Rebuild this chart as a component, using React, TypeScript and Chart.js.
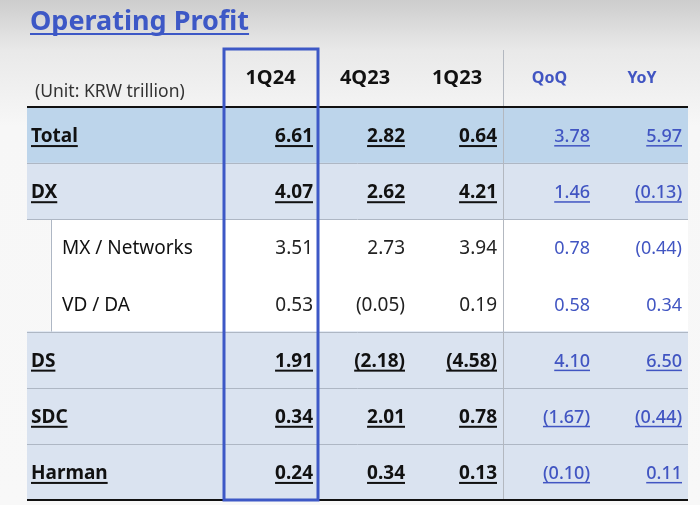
import React, { useEffect, useRef } from "react";
import { Chart, registerables } from "chart.js";

Chart.register(...registerables);

// ---- data ----
const rows = ["Total", "DX", "MX / Networks", "VD / DA", "DS", "SDC", "Harman"];
const boldRows = [true, true, false, false, true, true, true];
const columns = ["1Q24", "4Q23", "1Q23", "QoQ", "YoY"];
const q1_24 = [6.61, 4.07, 3.51, 0.53, 1.91, 0.34, 0.24];
const q4_23 = [2.82, 2.62, 2.73, -0.05, -2.18, 2.01, 0.34];
const q1_23 = [0.64, 4.21, 3.94, 0.19, -4.58, 0.78, 0.13];
const qoq = [3.78, 1.46, 0.78, 0.58, 4.1, -1.67, -0.1];
const yoy = [5.97, -0.13, -0.44, 0.34, 6.5, -0.44, 0.11];
const title = "Operating Profit";
const unitLabel = "(Unit: KRW trillion)";

// ---- layout / style ----
const COL_EDGES = [0, 195, 292, 384, 476, 569, 661];
const INDENT = 24;
const TABLE_W = COL_EDGES[COL_EDGES.length - 1];
const FONT = '"Noto Sans", "Open Sans", sans-serif';
const BLUE = "#3d58c6";
const TEXT_BLUE = "#4155c2";
const rowColor = (i: number) =>
  i === 0 ? "#bdd5eb" : boldRows[i] ? "#dae3f0" : "#ffffff";

const fmt = (v: number) => (v < 0 ? `(${Math.abs(v).toFixed(2)})` : v.toFixed(2));

const tablePlugin = {
  id: "tablePlugin",
  beforeDraw(chart: any) {
    const { ctx, width, height } = chart;
    ctx.save();
    const g = ctx.createLinearGradient(0, 0, 0, height);
    g.addColorStop(0, "#cdcdcd");
    g.addColorStop(0.1, "#e9e9e9");
    g.addColorStop(0.25, "#f7f7f7");
    g.addColorStop(1, "#f8f8f8");
    ctx.fillStyle = g;
    ctx.fillRect(0, 0, width, height);
    ctx.restore();
  },
  afterDatasetsDraw(chart: any) {
    const { ctx, chartArea } = chart;
    const x = chart.scales.x;
    const y = chart.scales.y;
    const band = y.getPixelForValue(1) - y.getPixelForValue(0);
    const cy = (i: number) => y.getPixelForValue(i);
    const xl = x.getPixelForValue(0);
    const xr = x.getPixelForValue(TABLE_W);
    ctx.save();

    // title
    ctx.font = `bold 27px ${FONT}`;
    ctx.fillStyle = BLUE;
    ctx.textBaseline = "alphabetic";
    ctx.textAlign = "left";
    ctx.fillText(title, 30, 30);
    const tw = ctx.measureText(title).width;
    ctx.fillRect(30, 33, tw, 2);

    // row separators
    ctx.strokeStyle = "#aeb7c4";
    ctx.lineWidth = 1;
    for (let i = 0; i < rows.length - 1; i++) {
      if (!boldRows[i] && !boldRows[i + 1]) continue;
      const yy = Math.round(cy(i) + band / 2) + 0.5;
      ctx.beginPath();
      ctx.moveTo(xl, yy);
      ctx.lineTo(xr, yy);
      ctx.stroke();
    }
    // indent border for sub rows
    const subIdx = rows.map((_, i) => i).filter((i) => !boldRows[i]);
    if (subIdx.length) {
      const ix = Math.round(x.getPixelForValue(INDENT)) + 0.5;
      ctx.beginPath();
      ctx.moveTo(ix, cy(subIdx[0]) - band / 2);
      ctx.lineTo(ix, cy(subIdx[subIdx.length - 1]) + band / 2);
      ctx.stroke();
    }

    // vertical separator between value & change columns
    ctx.strokeStyle = "#b3b8c0";
    const vx = Math.round(x.getPixelForValue(COL_EDGES[4])) + 0.5;
    ctx.beginPath();
    ctx.moveTo(vx, 50);
    ctx.lineTo(vx, chartArea.bottom);
    ctx.stroke();

    // header top/bottom black rules
    ctx.fillStyle = "#111";
    ctx.fillRect(xl, chartArea.top - 1, xr - xl, 2);
    ctx.fillRect(xl, chartArea.bottom - 1, xr - xl, 2);

    // headers
    ctx.textBaseline = "middle";
    ctx.textAlign = "left";
    ctx.font = `17.5px ${FONT}`;
    ctx.fillStyle = "#333";
    ctx.fillText(unitLabel, xl + 8, 92);
    columns.forEach((c, j) => {
      const cx = (x.getPixelForValue(COL_EDGES[j + 1]) + x.getPixelForValue(COL_EDGES[j + 2])) / 2;
      ctx.textAlign = "center";
      if (j < 3) {
        ctx.font = `bold 20px ${FONT}`;
        ctx.fillStyle = "#111";
      } else {
        ctx.font = `bold 16px ${FONT}`;
        ctx.fillStyle = TEXT_BLUE;
      }
      ctx.fillText(c, cx, 78);
    });

    // body
    const series = [q1_24, q4_23, q1_23, qoq, yoy];
    ctx.textBaseline = "alphabetic";
    rows.forEach((r, i) => {
      const base = cy(i) + 7;
      const bold = boldRows[i];
      // label
      ctx.textAlign = "left";
      ctx.font = `${bold ? "bold " : ""}19px ${FONT}`;
      ctx.fillStyle = "#111";
      const lx = bold ? xl + 4 : x.getPixelForValue(INDENT) + 11;
      ctx.fillText(r, lx, base);
      if (bold) {
        const w = ctx.measureText(r).width;
        ctx.fillRect(lx, base + 3, w, 2);
      }
      // values
      series.forEach((s, j) => {
        const txt = fmt(s[i]);
        const rx = x.getPixelForValue(COL_EDGES[j + 2]) - 6;
        ctx.textAlign = "right";
        const isChange = j >= 3;
        if (isChange) {
          ctx.font = `${bold ? "500 " : ""}18px ${FONT}`;
          ctx.fillStyle = TEXT_BLUE;
        } else {
          ctx.font = `${bold ? "bold " : ""}19px ${FONT}`;
          ctx.fillStyle = bold ? "#111" : "#222";
        }
        ctx.fillText(txt, rx, base);
        if (bold) {
          const w = ctx.measureText(txt).width;
          ctx.fillRect(rx - w, base + 3, w, isChange ? 1.5 : 2);
        }
      });
    });

    // highlight box around current quarter
    ctx.strokeStyle = BLUE;
    ctx.lineWidth = 3;
    const bx1 = x.getPixelForValue(COL_EDGES[1]) + 2;
    const bx2 = x.getPixelForValue(COL_EDGES[2]) - 1;
    ctx.strokeRect(bx1, 49, bx2 - bx1, chartArea.bottom - 49);

    ctx.restore();
  },
};

export default function App() {
  const ref = useRef<HTMLCanvasElement>(null);
  useEffect(() => {
    if (!ref.current) return;
    const chart = new Chart(ref.current, {
      type: "bar",
      data: {
        labels: rows,
        datasets: [
          {
            label: "rows",
            data: rows.map((_, i) => (boldRows[i] ? [0, TABLE_W] : [INDENT, TABLE_W])) as any,
            backgroundColor: rows.map((_, i) => rowColor(i)),
            borderWidth: 0,
            barPercentage: 1,
            categoryPercentage: 1,
          },
        ],
      },
      options: {
        indexAxis: "y",
        animation: false,
        responsive: true,
        maintainAspectRatio: false,
        layout: { padding: { left: 27, right: 12, top: 107, bottom: 5 } },
        plugins: { legend: { display: false }, tooltip: { enabled: false }, title: { display: false } },
        scales: {
          x: { type: "linear", min: 0, max: TABLE_W, display: false },
          y: { type: "category", display: false, offset: true },
        },
      },
      plugins: [tablePlugin],
    });
    return () => chart.destroy();
  }, []);
  return (
    <div style={{ position: "fixed", left: 0, top: 0, width: 700, height: 505 }}>
      <canvas ref={ref} />
    </div>
  );
}
